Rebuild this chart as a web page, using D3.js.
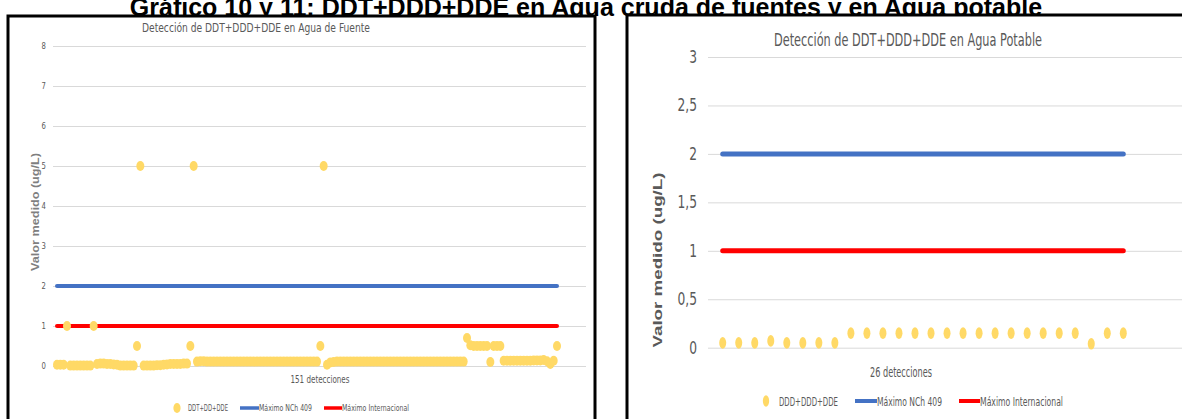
<!DOCTYPE html>
<html><head><meta charset="utf-8">
<script src="https://cdn.jsdelivr.net/npm/d3@7"></script>
<style>
body{margin:0;background:#fff}
svg{display:block}
text{font-family:"Liberation Sans Narrow","DejaVu Sans Condensed","Liberation Sans",sans-serif}
</style>
</head><body>
<svg id="c" width="1182" height="419"></svg>
<script>
// ---------- DATA ----------
const mainTitle = "Gráfico 10 y 11: DDT+DDD+DDE en Agua cruda de fuentes y en Agua potable";
const leftTitle = "Detección de DDT+DDD+DDE  en Agua de Fuente";
const rightTitle = "Detección de DDT+DDD+DDE en Agua Potable";
const yAxisTitle = "Valor medido (ug/L)";
const leftXLabel = "151  detecciones";
const rightXLabel = "26 detecciones";
const leftSeriesNames = ["DDT+DD+DDE", "Máximo NCh 409", "Máximo Internacional"];
const rightSeriesNames = ["DDD+DDD+DDE", "Máximo NCh 409", "Máximo Internacional"];
const leftTicks = [0,1,2,3,4,5,6,7,8];
const rightTicks = [0,0.5,1,1.5,2,2.5,3];
const limitNCh409 = 2;
const limitInternacional = 1;

// 151 detections, agua de fuente (ug/L)
const leftValues = [
 0.03,0.03,0.03, 1,
 0.01,0.01,0.01,0.01,0.01,0.01,0.01, 1,
 0.05,0.06,0.06,0.05,0.05,0.04,0.03, 0.01,0.01,0.01,0.01,0.01,
 0.5, 5,
 0.01,0.01,0.01,0.01,0.02,0.02,0.03, 0.04,0.05,0.05,0.05,0.05,0.06,0.06,
 0.5, 5,
 0.11,0.12,0.12,0.11,0.11,0.11,0.11,0.11,0.11,0.11,0.11,0.11,0.11,0.11,0.11,0.11,0.11,0.11,0.11,
 0.11,0.11,0.11,0.11,0.11,0.11,0.11,0.11,0.11,0.11,0.11,0.11,0.11,0.11,0.11,0.11,0.11,0.11,
 0.5, 5, 0.03,
 0.09,0.1,0.11,0.11,0.11,0.11,0.11,0.11,0.11,0.11,0.11,0.11,0.11,0.11,0.11,0.11,0.11,0.11,0.11,0.11,
 0.11,0.11,0.11,0.11,0.11,0.11,0.11,0.11,0.11,0.11,0.11,0.11,0.11,0.11,0.11,0.11,0.11,0.11,0.11,0.11,0.11,
 0.7, 0.52,0.5,0.5,0.5,0.5,0.5, 0.1, 0.5,0.5,0.5,
 0.13,0.13,0.13,0.13,0.13,0.13,0.13,0.13,0.13,0.14,0.14,0.14,0.15,0.12,
 0.05, 0.13, 0.5
];
// 26 detections, agua potable (ug/L)
const rightValues = [0.05,0.05,0.05,0.07,0.05,0.05,0.05,0.05,
 0.15,0.15,0.15,0.15,0.15,0.15,0.15,0.15,0.15,0.15,0.15,0.15,0.15,0.15,0.15,
 0.04,0.15,0.15];

// ---------- DRAW ----------
const svg = d3.select("#c");
const YEL = "#ffd966", BLUE = "#4472c4", RED = "#ff0000", GRID = "#d9d9d9", TXT = "#595959";

// big title (top slightly cut off, as in the reference)
svg.append("text").attr("x", 586).attr("y", 16).attr("text-anchor","middle")
  .style("font-family","'Liberation Sans',Arial,sans-serif").style("font-weight","bold")
  .style("font-size","25px").attr("fill","#000").text(mainTitle);

// panels
svg.append("rect").attr("x",8).attr("y",16).attr("width",587).attr("height",430)
  .attr("fill","#fff").attr("stroke","#000").attr("stroke-width",3);
svg.append("rect").attr("x",627).attr("y",15).attr("width",600).attr("height",430)
  .attr("fill","#fff").attr("stroke","#000").attr("stroke-width",3);

function fitText(sel, len){ return sel.attr("textLength",len).attr("lengthAdjust","spacingAndGlyphs"); }

function chart(o){
  const g = svg.append("g");
  const x = d3.scaleLinear().domain([0, o.values.length-1]).range(o.xr);
  const y = d3.scaleLinear().domain(o.yd).range(o.yr);
  // gridlines + labels
  const ax = d3.axisLeft(y).tickValues(o.ticks).tickSize(-(o.gx[1]-o.gx[0])).tickPadding(o.pad)
    .tickFormat(d => String(d).replace(".", ","));
  const ag = g.append("g").attr("transform",`translate(${o.gx[0]},0)`).call(ax);
  ag.select(".domain").remove();
  ag.selectAll("line").attr("stroke",GRID).attr("stroke-width",1);
  ag.selectAll("text").attr("fill",TXT).style("font-size",o.tickFs+"px")
    .style("font-family","'Liberation Sans Narrow','DejaVu Sans Condensed',sans-serif")
    .attr("transform",`scale(${o.tsx},1)`).attr("x", -o.pad/o.tsx);
  // limit lines
  const n = o.values.length-1;
  [[limitNCh409,BLUE],[limitInternacional,RED]].forEach(([v,c])=>{
    g.append("line").attr("x1",x(0)).attr("x2",x(n)).attr("y1",y(v)).attr("y2",y(v))
      .attr("stroke",c).attr("stroke-width",o.lw).attr("stroke-linecap","round");
  });
  // points
  g.append("g").selectAll("ellipse").data(o.values).join("ellipse")
    .attr("cx",(d,i)=>x(i)).attr("cy",d=>y(d)).attr("rx",o.rx).attr("ry",o.ry).attr("fill",YEL);
  // title
  fitText(g.append("text").attr("x",o.title.x).attr("y",o.title.y).attr("text-anchor","middle")
    .attr("fill",TXT).style("font-size",o.title.fs+"px").text(o.title.t), o.title.len);
  // x label
  fitText(g.append("text").attr("x",o.xl.x).attr("y",o.xl.y).attr("text-anchor","middle")
    .attr("fill",TXT).style("font-size",o.xl.fs+"px").text(o.xl.t), o.xl.len);
  // y title
  fitText(g.append("text").attr("transform",`translate(${o.yt.x},${o.yt.y}) rotate(-90)`)
    .attr("text-anchor","middle").attr("dy","0.35em").attr("fill",o.yt.c)
    .style("font-family","'Liberation Sans',Arial,sans-serif").style("font-weight","bold")
    .style("font-size",o.yt.fs+"px").text(yAxisTitle), o.yt.len);
  // legend
  const L = o.leg;
  g.append("ellipse").attr("cx",L.dot).attr("cy",L.y).attr("rx",o.rx*0.9).attr("ry",o.ry).attr("fill",YEL);
  fitText(g.append("text").attr("x",L.t[0][0]).attr("y",L.y).attr("dy","0.35em").attr("fill",TXT)
    .style("font-size",L.fs+"px").text(o.names[0]), L.t[0][1]);
  [[BLUE,L.l[0],o.names[1],L.t[1]],[RED,L.l[1],o.names[2],L.t[2]]].forEach(([c,ln,nm,tt])=>{
    g.append("line").attr("x1",ln[0]).attr("x2",ln[1]).attr("y1",L.y).attr("y2",L.y)
      .attr("stroke",c).attr("stroke-width",L.lw);
    fitText(g.append("text").attr("x",tt[0]).attr("y",L.y).attr("dy","0.35em").attr("fill",TXT)
      .style("font-size",L.fs+"px").text(nm), tt[1]);
  });
}

chart({
  values:leftValues, xr:[57,557], yd:[0,8], yr:[366,46], ticks:leftTicks,
  gx:[53,586], pad:7, tickFs:9, tsx:0.85, lw:4, rx:4, ry:5,
  title:{t:leftTitle,x:256,y:32,fs:13,len:228},
  xl:{t:leftXLabel,x:320,y:383,fs:10,len:59},
  yt:{x:35,y:212,fs:10,len:118,c:"#7f7f7f"},
  names:leftSeriesNames,
  leg:{y:408,dot:177,fs:9,lw:3.5,t:[[188,40],[259,53],[342,67]],l:[[240,259],[324,342]]}
});

chart({
  values:rightValues, xr:[722.7,1123.3], yd:[0,3], yr:[347.7,57], ticks:rightTicks,
  gx:[708,1182], pad:11, tickFs:17, tsx:0.8, lw:5, rx:3.5, ry:5.8,
  title:{t:rightTitle,x:908,y:46,fs:18,len:268},
  xl:{t:rightXLabel,x:901,y:377,fs:14,len:62},
  yt:{x:657,y:260,fs:13,len:175,c:TXT},
  names:rightSeriesNames,
  leg:{y:401,dot:766,fs:13,lw:4,t:[[779,59],[877,65],[980,83]],l:[[855,877],[959,980]]}
});
</script>
</body></html>
